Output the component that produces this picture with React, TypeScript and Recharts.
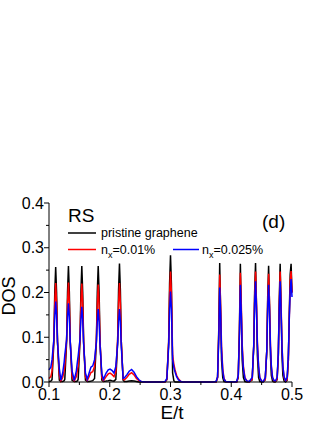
import { LineChart, Line, XAxis, YAxis } from 'recharts';

// energy grid E/t (denser around the peaks)
const energy = [
    0.100, 0.103, 0.105, 0.108, 0.1095, 0.111, 0.1125, 0.114, 0.117, 0.1195,
    0.1225, 0.125, 0.126, 0.129, 0.1305, 0.132, 0.1335, 0.135, 0.138, 0.1415,
    0.145, 0.147, 0.148, 0.151, 0.1525, 0.154, 0.1555, 0.157, 0.160, 0.163,
    0.166, 0.169, 0.172, 0.175, 0.178, 0.1795, 0.181, 0.1825, 0.184, 0.187,
    0.1895, 0.194, 0.1975, 0.2005, 0.2035, 0.207, 0.210, 0.213, 0.2145, 0.216,
    0.2175, 0.219, 0.222, 0.224, 0.228, 0.232, 0.236, 0.240, 0.244, 0.248,
    0.252, 0.260, 0.285, 0.291, 0.294, 0.297, 0.2985, 0.300, 0.3015, 0.3035,
    0.3055, 0.3075, 0.310, 0.313, 0.317, 0.320, 0.370, 0.375, 0.3775, 0.3795,
    0.381, 0.3825, 0.384, 0.386, 0.388, 0.391, 0.405, 0.409, 0.4115, 0.4135,
    0.415, 0.4165, 0.418, 0.420, 0.4225, 0.426, 0.4295, 0.4345, 0.437, 0.4385,
    0.440, 0.4415, 0.443, 0.445, 0.447, 0.450, 0.4525, 0.456, 0.4585, 0.460,
    0.4615, 0.463, 0.4645, 0.466, 0.468, 0.4705, 0.4725, 0.4755, 0.4775, 0.479,
    0.4805, 0.482, 0.4835, 0.485, 0.487, 0.4895, 0.492, 0.494, 0.4955, 0.497,
    0.4985, 0.500,
];

// pristine graphene
const dosPristine = [
    0.001, 0.002, 0.005, 0.090, 0.200, 0.257, 0.200, 0.090, 0.004, 0.001,
    0.001, 0.003, 0.006, 0.090, 0.200, 0.259, 0.200, 0.090, 0.004, 0.001,
    0.001, 0.003, 0.006, 0.090, 0.200, 0.259, 0.200, 0.090, 0.004, 0.001,
    0.001, 0.002, 0.003, 0.008, 0.090, 0.200, 0.259, 0.200, 0.090, 0.004,
    0.001, 0.002, 0.003, 0.004, 0.003, 0.002, 0.006, 0.090, 0.205, 0.265,
    0.205, 0.090, 0.004, 0.001, 0.001, 0.002, 0.003, 0.002, 0.001, 0,
    0, 0, 0, 0, 0.005, 0.090, 0.220, 0.283, 0.220, 0.020,
    0.003, 0, 0, 0, 0, 0, 0, 0, 0.010, 0.120,
    0.266, 0.160, 0.050, 0.010, 0.001, 0, 0, 0, 0.010, 0.120,
    0.264, 0.160, 0.050, 0.010, 0.001, 0, 0, 0.005, 0.080, 0.200,
    0.266, 0.170, 0.060, 0.010, 0.001, 0, 0, 0.005, 0.070, 0.190,
    0.260, 0.170, 0.060, 0.015, 0.002, 0, 0, 0.005, 0.060, 0.180,
    0.264, 0.170, 0.060, 0.015, 0.002, 0, 0.004, 0.050, 0.150, 0.240,
    0.264, 0.200,
];

// n_x = 0.01%
const dosN001 = [
    0.008, 0.012, 0.025, 0.095, 0.177, 0.221, 0.177, 0.090, 0.015, 0.002,
    0.010, 0.025, 0.035, 0.095, 0.177, 0.222, 0.177, 0.090, 0.012, 0.002,
    0.012, 0.028, 0.035, 0.095, 0.175, 0.220, 0.175, 0.090, 0.012, 0.003,
    0.012, 0.021, 0.023, 0.035, 0.095, 0.172, 0.218, 0.172, 0.090, 0.010,
    0.003, 0.012, 0.018, 0.020, 0.017, 0.012, 0.022, 0.095, 0.175, 0.221,
    0.175, 0.090, 0.006, 0.005, 0.010, 0.017, 0.021, 0.016, 0.008, 0.003,
    0.001, 0, 0, 0, 0.006, 0.090, 0.195, 0.247, 0.200, 0.060,
    0.040, 0.027, 0.015, 0.007, 0.001, 0, 0, 0, 0.010, 0.110,
    0.240, 0.170, 0.080, 0.030, 0.008, 0.001, 0, 0, 0.012, 0.115,
    0.244, 0.175, 0.085, 0.035, 0.010, 0.002, 0, 0.006, 0.080, 0.190,
    0.247, 0.180, 0.090, 0.035, 0.010, 0.002, 0.001, 0.006, 0.070, 0.180,
    0.242, 0.175, 0.085, 0.035, 0.010, 0.002, 0.001, 0.006, 0.060, 0.170,
    0.247, 0.175, 0.085, 0.035, 0.010, 0.002, 0.005, 0.050, 0.140, 0.225,
    0.248, 0.200,
];

// n_x = 0.025%
const dosN0025 = [
    0.027, 0.033, 0.050, 0.095, 0.148, 0.180, 0.148, 0.090, 0.030, 0.004,
    0.020, 0.045, 0.060, 0.095, 0.145, 0.176, 0.145, 0.088, 0.025, 0.004,
    0.025, 0.048, 0.058, 0.095, 0.140, 0.168, 0.140, 0.085, 0.020, 0.006,
    0.020, 0.033, 0.036, 0.050, 0.090, 0.135, 0.163, 0.135, 0.082, 0.018,
    0.006, 0.020, 0.027, 0.029, 0.026, 0.020, 0.035, 0.085, 0.135, 0.163,
    0.135, 0.080, 0.008, 0.009, 0.016, 0.024, 0.028, 0.022, 0.012, 0.005,
    0.001, 0, 0, 0.001, 0.008, 0.080, 0.160, 0.202, 0.165, 0.050,
    0.033, 0.022, 0.012, 0.005, 0.001, 0, 0, 0.001, 0.012, 0.100,
    0.211, 0.150, 0.070, 0.025, 0.007, 0.001, 0, 0.001, 0.015, 0.105,
    0.217, 0.155, 0.075, 0.030, 0.008, 0.002, 0.001, 0.010, 0.080, 0.175,
    0.225, 0.165, 0.085, 0.035, 0.010, 0.002, 0.001, 0.010, 0.070, 0.165,
    0.217, 0.160, 0.080, 0.035, 0.010, 0.003, 0.002, 0.010, 0.065, 0.160,
    0.225, 0.160, 0.080, 0.035, 0.012, 0.003, 0.010, 0.060, 0.140, 0.205,
    0.230, 0.190,
];

const xTicks = [0.1, 0.15, 0.2, 0.25, 0.3, 0.35, 0.4, 0.45, 0.5];
const yTicks = [0, 0.05, 0.1, 0.15, 0.2, 0.25, 0.3, 0.35, 0.4];

const data = energy.map((e, i) => ({
    e,
    pristine: dosPristine[i],
    n001: dosN001[i],
    n0025: dosN0025[i],
}));

const FONT = '"Liberation Sans", Arial, sans-serif';

const isMajor = (v: number) => Math.abs(v * 10 - Math.round(v * 10)) < 1e-6;

const XTick = (props: any) => {
    const { x, y, payload } = props;
    const major = isMajor(payload.value);
    return (
        <g>
            <line x1={x} y1={y} x2={x} y2={y + (major ? 5 : 3)} stroke="#000" strokeWidth={1} />
            {major && (
                <text x={x} y={y + 18} textAnchor="middle" fontSize={16} fontFamily={FONT} fill="#000">
                    {payload.value.toFixed(1)}
                </text>
            )}
        </g>
    );
};

const YTick = (props: any) => {
    const { x, y, payload } = props;
    const major = isMajor(payload.value);
    return (
        <g>
            <line x1={x - (major ? 5 : 3)} y1={y} x2={x} y2={y} stroke="#000" strokeWidth={1} />
            {major && (
                <text x={x - 5} y={y + 5.5} textAnchor="end" fontSize={16} fontFamily={FONT} fill="#000">
                    {payload.value.toFixed(1)}
                </text>
            )}
        </g>
    );
};

const App = () => {
    return (
        <div>
            <style>{'body{margin:0}'}</style>
            <LineChart
                width={327}
                height={423}
                data={data}
                margin={{ top: 203, right: 35, left: 0, bottom: 0 }}
            >
                <XAxis
                    dataKey="e"
                    type="number"
                    domain={[0.1, 0.5]}
                    ticks={xTicks}
                    interval={0}
                    height={41}
                    tickSize={0}
                    tickMargin={0}
                    tickLine={false}
                    tick={<XTick />}
                    axisLine={{ stroke: '#000', strokeWidth: 1 }}
                />
                <XAxis
                    xAxisId="top"
                    orientation="top"
                    type="number"
                    domain={[0.1, 0.5]}
                    height={0}
                    tick={false}
                    tickLine={false}
                    axisLine={{ stroke: '#000', strokeWidth: 1 }}
                />
                <YAxis
                    type="number"
                    domain={[0, 0.4]}
                    ticks={yTicks}
                    interval={0}
                    width={49}
                    tickSize={0}
                    tickMargin={0}
                    tickLine={false}
                    tick={<YTick />}
                    axisLine={{ stroke: '#000', strokeWidth: 1 }}
                />
                <YAxis
                    yAxisId="right"
                    orientation="right"
                    type="number"
                    domain={[0, 0.4]}
                    width={0}
                    tick={false}
                    tickLine={false}
                    axisLine={{ stroke: '#000', strokeWidth: 1 }}
                />
                <Line dataKey="pristine" type="linear" stroke="#000000" strokeWidth={1.5} dot={false} isAnimationActive={false} />
                <Line dataKey="n001" type="linear" stroke="#ff0000" strokeWidth={1.5} dot={false} isAnimationActive={false} />
                <Line dataKey="n0025" type="linear" stroke="#0000ff" strokeWidth={1.5} dot={false} isAnimationActive={false} />

                {/* axis titles */}
                <text x={172} y={419} textAnchor="middle" fontSize={19} fontFamily={FONT} fill="#000">E/t</text>
                <text x={15} y={296} transform="rotate(-90 15 296)" textAnchor="middle" fontSize={18} fontFamily={FONT} fill="#000">DOS</text>

                {/* panel labels + legend */}
                <text x={68} y={222} fontSize={19} fontFamily={FONT} fill="#000">RS</text>
                <text x={262} y={228} fontSize={19} fontFamily={FONT} fill="#000">(d)</text>

                <line x1={68} y1={233} x2={96} y2={233} stroke="#000" strokeWidth={1.5} />
                <text x={101} y={237} fontSize={12.5} fontFamily={FONT} fill="#000">pristine graphene</text>

                <line x1={68} y1={249.5} x2={96} y2={249.5} stroke="#ff0000" strokeWidth={1.5} />
                <text x={101} y={253.5} fontSize={12.5} fontFamily={FONT} fill="#000">
                    n<tspan fontSize={9} dy={4}>x</tspan><tspan dy={-4}>=0.01%</tspan>
                </text>

                <line x1={173} y1={249.5} x2={199} y2={249.5} stroke="#0000ff" strokeWidth={1.5} />
                <text x={202} y={253.5} fontSize={12.5} fontFamily={FONT} fill="#000">
                    n<tspan fontSize={9} dy={4}>x</tspan><tspan dy={-4}>=0.025%</tspan>
                </text>
            </LineChart>
        </div>
    );
};

export default App;
